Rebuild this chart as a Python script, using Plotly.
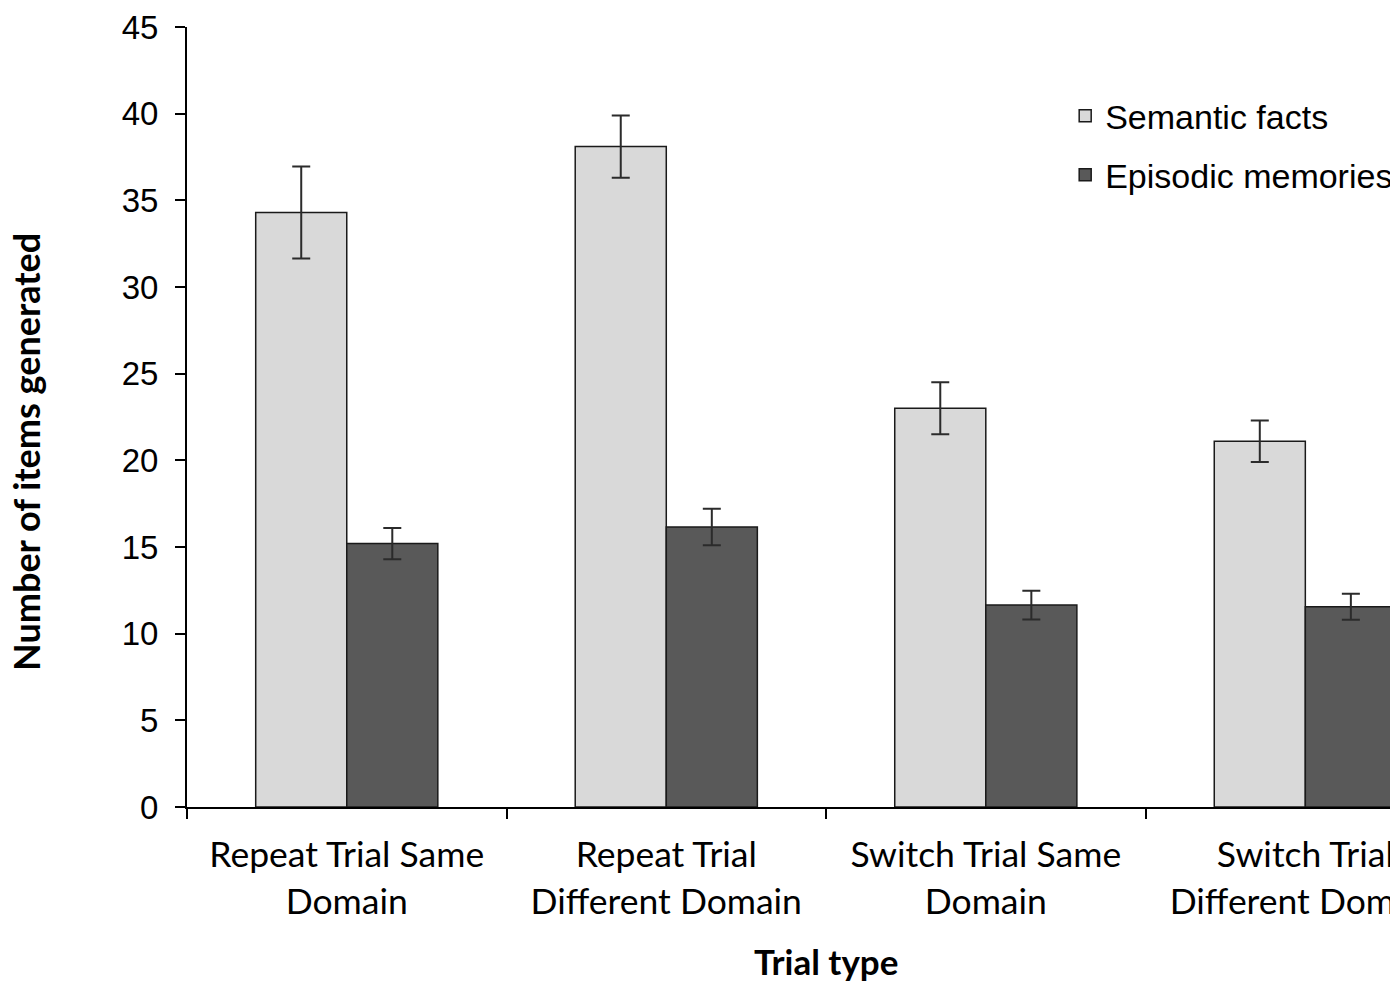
import plotly.graph_objects as go

categories = ["Repeat Trial Same<br>Domain", "Repeat Trial<br>Different Domain",
              "Switch Trial Same<br>Domain", "Switch Trial<br>Different Domain"]
semantic = [34.3, 38.1, 23.0, 21.1]
semantic_err = [2.65, 1.8, 1.5, 1.2]
episodic = [15.2, 16.15, 11.65, 11.55]
episodic_err = [0.9, 1.05, 0.83, 0.75]

fig = go.Figure()
fig.add_trace(go.Bar(
    name="Semantic facts", x=categories, y=semantic,
    marker=dict(color="#d9d9d9", line=dict(color="#1a1a1a", width=1.5)),
    error_y=dict(type="data", array=semantic_err, color="#2b2b2b", thickness=2, width=9),
    legendgroup="a",
))
fig.add_trace(go.Bar(
    name="Episodic memories", x=categories, y=episodic,
    marker=dict(color="#595959", line=dict(color="#1a1a1a", width=1.5)),
    error_y=dict(type="data", array=episodic_err, color="#2b2b2b", thickness=2, width=9),
    legendgroup="b",
))

fig.update_layout(
    width=1390, height=983,
    margin=dict(l=187, r=0, t=27, b=176, autoexpand=False),
    paper_bgcolor="white", plot_bgcolor="white",
    barmode="group", bargap=0.43, bargroupgap=0,
    font=dict(family="Liberation Sans, Arial", color="black"),
    showlegend=True,
    legend=dict(x=0.730, y=0.923, xanchor="left", yanchor="top",
                font=dict(family="Liberation Sans, Arial", size=34, color="black"),
                tracegroupgap=12, traceorder="grouped", bgcolor="rgba(0,0,0,0)"),
    xaxis=dict(
        type="category", range=[-0.5, 3.265], automargin=False,
        showline=True, linecolor="black", linewidth=1.5,
        ticks="outside", tickson="boundaries", ticklen=10, tickcolor="black", tickwidth=1.5,
        ticklabelstandoff=16,
        tickfont=dict(family="Lato", size=35.5, color="black"),
        showgrid=False, zeroline=False,
    ),
    yaxis=dict(
        range=[0, 45], dtick=5, tick0=0, automargin=False,
        showline=True, linecolor="black", linewidth=2,
        ticks="outside", ticklen=10, tickcolor="black", tickwidth=1.5, ticklabelstandoff=10,
        tickfont=dict(family="Liberation Sans, Arial", size=33, color="black"),
        showgrid=False, zeroline=False,
    ),
    annotations=[
        dict(text="<b>Number of items generated</b>", textangle=-90,
             xref="paper", yref="paper", x=-0.134, y=0.455, xanchor="center", yanchor="middle",
             showarrow=False, font=dict(family="Lato", size=36, color="black")),
        dict(text="<b>Trial type</b>",
             xref="paper", yref="paper", x=0.531, y=-0.197, xanchor="center", yanchor="middle",
             showarrow=False, font=dict(family="Lato", size=35, color="black")),
    ],
)

fig.write_html("out.html", config={"displayModeBar": False},
               post_script="document.body.style.margin='0';document.body.style.overflow='hidden';")
